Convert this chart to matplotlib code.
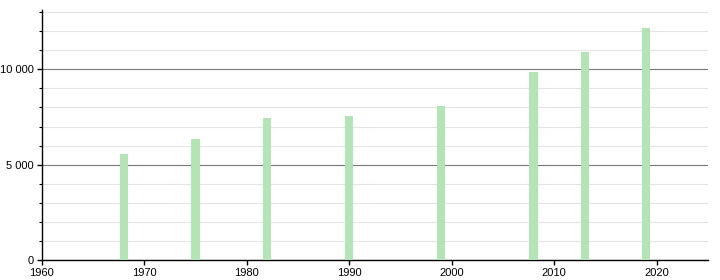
import numpy as np
import matplotlib.pyplot as plt
from matplotlib.ticker import MultipleLocator, FuncFormatter

plt.rcParams['font.family'] = ['Liberation Sans', 'DejaVu Sans']

years = [1968, 1975, 1982, 1990, 1999, 2008, 2013, 2019]
population = [5580, 6370, 7470, 7530, 8100, 9840, 10890, 12160]

fig = plt.figure(figsize=(7.2, 2.8), dpi=100)
ax = fig.add_axes([0.058, 0.071, 0.925, 0.893])

ax.bar(years, population, width=0.8, color='#b3e4b3', zorder=3)

ax.set_xlim(1960, 2025)
ax.set_ylim(0, 13100)
ax.xaxis.set_major_locator(MultipleLocator(10))
ax.yaxis.set_major_locator(MultipleLocator(5000))
ax.yaxis.set_minor_locator(MultipleLocator(1000))
ax.yaxis.set_major_formatter(FuncFormatter(lambda v, p: f'{int(v):,}'.replace(',', ' ')))

ax.grid(axis='y', which='major', color='#777777', lw=0.8, zorder=1)
ax.grid(axis='y', which='minor', color='#e4e4e4', lw=0.8, zorder=1)

for s in ['top', 'right']:
    ax.spines[s].set_visible(False)
ax.spines['left'].set_linewidth(1)
ax.spines['bottom'].set_linewidth(1)
ax.tick_params(labelsize=8, length=3.5, width=1, pad=2)
ax.tick_params(which='minor', length=2.5, width=0.8)

fig.savefig('out.png', dpi=100)
